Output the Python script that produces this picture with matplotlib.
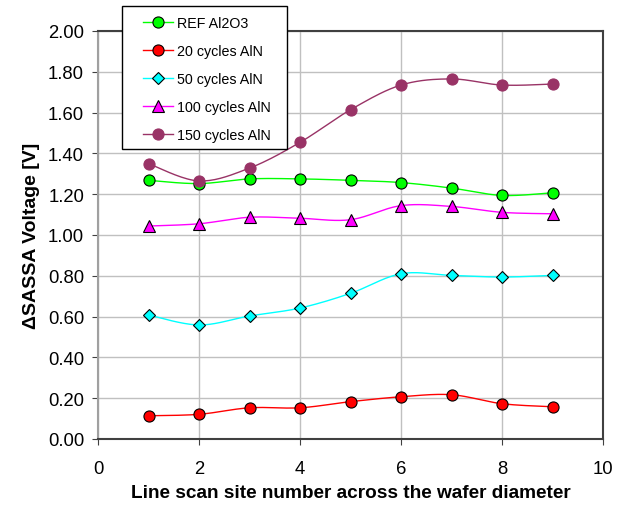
import numpy as np
import matplotlib
matplotlib.use('Agg')
import matplotlib.pyplot as plt
from matplotlib.patches import Rectangle

plt.rcParams['font.family'] = ['Liberation Sans', 'DejaVu Sans']

# Site numbers and measured values
sites = [1, 2, 3, 4, 5, 6, 7, 8, 9]
ref_al2o3 = [1.268, 1.252, 1.275, 1.275, 1.268, 1.257, 1.230, 1.194, 1.207]
aln_20 = [0.114, 0.121, 0.153, 0.153, 0.183, 0.207, 0.217, 0.173, 0.158]
aln_50 = [0.608, 0.559, 0.603, 0.642, 0.714, 0.810, 0.802, 0.794, 0.802]
aln_100 = [1.044, 1.055, 1.087, 1.082, 1.075, 1.144, 1.140, 1.111, 1.104]
aln_150 = [1.350, 1.265, 1.328, 1.454, 1.614, 1.735, 1.765, 1.735, 1.740]

series_labels = ['REF Al2O3', '20 cycles AlN', '50 cycles AlN',
                 '100 cycles AlN', '150 cycles AlN']
x_ticks = [0, 2, 4, 6, 8, 10]
y_ticks = [0.0, 0.2, 0.4, 0.6, 0.8, 1.0, 1.2, 1.4, 1.6, 1.8, 2.0]


def smooth(x, y, n=20):
    # Catmull-Rom style bezier, like Excel's smoothed line
    x = np.asarray(x, float)
    y = np.asarray(y, float)
    pts = np.column_stack([x, y])
    out = []
    for i in range(len(pts) - 1):
        p0 = pts[i - 1] if i > 0 else pts[i]
        p1 = pts[i]
        p2 = pts[i + 1]
        p3 = pts[i + 2] if i + 2 < len(pts) else pts[i + 1]
        c1 = p1 + (p2 - p0) / 6
        c2 = p2 - (p3 - p1) / 6
        t = np.linspace(0, 1, n)[:, None]
        seg = ((1 - t) ** 3 * p1 + 3 * (1 - t) ** 2 * t * c1
               + 3 * (1 - t) * t ** 2 * c2 + t ** 3 * p2)
        out.append(seg if i == 0 else seg[1:])
    out = np.vstack(out)
    return out[:, 0], out[:, 1]


W, H = 634, 510
fig = plt.figure(figsize=(W / 100, H / 100), dpi=100)
ax = fig.add_axes([98 / W, 1 - 440 / H, 505 / W, 408 / H])

styles = [
    (ref_al2o3, '#00ff00', 'o', '#00ff00', 'black', 8),
    (aln_20, '#ff0000', 'o', '#ff0000', 'black', 8),
    (aln_50, '#00ffff', 'D', '#00ffff', 'black', 6),
    (aln_100, '#ff00ff', '^', '#ff00ff', 'black', 8.5),
    (aln_150, '#993366', 'o', '#993366', '#993366', 8),
]

handles = []
for (vals, lc, mk, fc, ec, ms), lab in zip(styles, series_labels):
    sx, sy = smooth(sites, vals)
    ax.plot(sx, sy, color=lc, lw=1.0, zorder=3)
    ax.plot(sites, vals, ls='none', marker=mk, ms=ms, mfc=fc, mec=ec,
            mew=0.8, zorder=4)
    h, = ax.plot([], [], color=lc, lw=1.0, marker=mk, ms=ms, mfc=fc,
                 mec=ec, mew=0.8, label=lab)
    handles.append(h)

ax.set_xlim(0, 10)
ax.set_ylim(0, 2.0)
ax.set_xticks(x_ticks)
ax.set_yticks(y_ticks)
ax.set_yticklabels(['%.2f' % v for v in y_ticks])
ax.grid(True, color='#c0c0c0', lw=1.0, zorder=0)
ax.set_axisbelow(True)
ax.tick_params(axis='both', direction='out', length=4, labelsize=13.3,
               color='#404040')
ax.tick_params(axis='x', pad=11)
ax.tick_params(axis='y', pad=6)

for side in ['top', 'right', 'bottom']:
    ax.spines[side].set_color('#404040')
    ax.spines[side].set_linewidth(1.5)
ax.spines['left'].set_color('#a0a0a0')
ax.spines['left'].set_linewidth(1.5)

ax.set_xlabel('Line scan site number across the wafer diameter',
              fontsize=13.7, fontweight='bold', labelpad=5)
ax.set_ylabel('\u0394SASSA Voltage [V]', fontsize=14, fontweight='bold',
              labelpad=6)

# legend box drawn by hand so its padding matches
box = Rectangle((122 / W, 1 - 150 / H), 165 / W, 143 / H,
                transform=fig.transFigure, facecolor='white',
                edgecolor='black', lw=1.0, zorder=9)
fig.patches.append(box)

leg = fig.legend(handles=handles, loc='upper left',
                 bbox_to_anchor=(143 / W, 1 - 17.5 / H),
                 frameon=False, fontsize=10.3,
                 handlelength=2.1, labelspacing=0.97, borderpad=0,
                 handletextpad=0.3, borderaxespad=0)
leg.set_zorder(10)

fig.savefig('out.png', dpi=100)
